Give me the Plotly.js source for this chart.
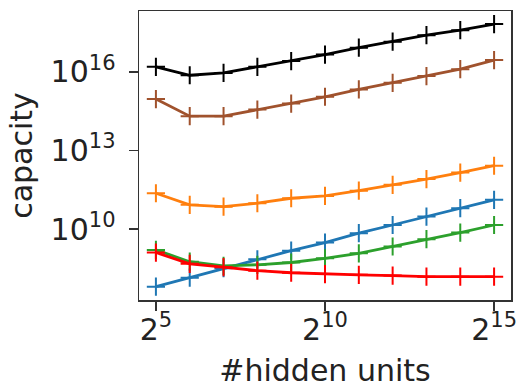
<!DOCTYPE html>
<html>
<head>
<meta charset="utf-8">
<script src="https://cdn.plot.ly/plotly-3.0.1.min.js"></script>
<style>html,body{margin:0;padding:0;background:#fff;}#chart{width:519px;height:388px;}</style>
</head>
<body>
<div id="chart"></div>
<script>
// hidden units: 2^5 .. 2^15
const hiddenUnits = [32, 64, 128, 256, 512, 1024, 2048, 4096, 8192, 16384, 32768];

// capacity values as log10 exponents
const blueLog   = [7.81, 8.15, 8.51, 8.85, 9.18, 9.49, 9.85, 10.16, 10.48, 10.80, 11.12];
const orangeLog = [11.37, 10.93, 10.86, 10.99, 11.18, 11.27, 11.47, 11.69, 11.91, 12.16, 12.42];
const greenLog  = [9.21, 8.76, 8.60, 8.64, 8.73, 8.89, 9.08, 9.34, 9.62, 9.87, 10.16];
const redLog    = [9.11, 8.68, 8.55, 8.42, 8.34, 8.29, 8.26, 8.23, 8.19, 8.19, 8.19];
const brownLog  = [14.96, 14.31, 14.31, 14.56, 14.79, 15.05, 15.33, 15.58, 15.84, 16.10, 16.45];
const blackLog  = [16.19, 15.87, 15.96, 16.19, 16.41, 16.66, 16.92, 17.15, 17.40, 17.59, 17.82];

const xTickVals = [32, 1024, 32768];
const xTickText = ['2<sup>5</sup>', '2<sup>10</sup>', '2<sup>15</sup>'];
const yTickVals = [1e10, 1e13, 1e16];
const yTickText = ['10<sup>10</sup>', '10<sup>13</sup>', '10<sup>16</sup>'];

const series = [
  {v: blueLog,   c: '#1f77b4'},
  {v: orangeLog, c: '#ff7f0e'},
  {v: greenLog,  c: '#2ca02c'},
  {v: redLog,    c: '#ff0000'},
  {v: brownLog,  c: '#a0522d'},
  {v: blackLog,  c: '#000000'}
];

const traces = series.map(s => ({
  x: hiddenUnits,
  y: s.v.map(e => Math.pow(10, e)),
  type: 'scatter',
  mode: 'lines+markers',
  line: {color: s.c, width: 2.8},
  marker: {symbol: 'cross-thin', size: 13, line: {color: s.c, width: 2}},
  showlegend: false
}));

const font = {family: 'DejaVu Sans, sans-serif', size: 30, color: '#222'};

const layout = {
  width: 519, height: 388,
  margin: {l: 139, r: 8, t: 11, b: 88},
  paper_bgcolor: '#fff', plot_bgcolor: '#fff',
  font: font,
  xaxis: {
    type: 'log',
    range: [4.5 * Math.log10(2), 15.5 * Math.log10(2)],
    tickvals: xTickVals, ticktext: xTickText,
    ticks: 'outside', ticklen: 9, tickwidth: 1.5, tickcolor: '#333',
    ticklabelstandoff: -7,
    showgrid: false, zeroline: false,
    showline: true, linecolor: '#333', linewidth: 1.5, mirror: true,
    tickfont: font, automargin: false,
    title: {text: '#hidden units', font: font, standoff: 16}
  },
  yaxis: {
    type: 'log',
    range: [7.30, 18.32],
    tickvals: yTickVals, ticktext: yTickText,
    ticks: 'outside', ticklen: 9, tickwidth: 1.5, tickcolor: '#333',
    ticklabelstandoff: 7,
    showgrid: false, zeroline: false,
    showline: true, linecolor: '#333', linewidth: 1.5, mirror: true,
    tickfont: font, automargin: false,
    title: {text: 'capacity', font: font, standoff: 9}
  }
};

Plotly.newPlot('chart', traces, layout, {displayModeBar: false, staticPlot: true});
</script>
</body>
</html>
